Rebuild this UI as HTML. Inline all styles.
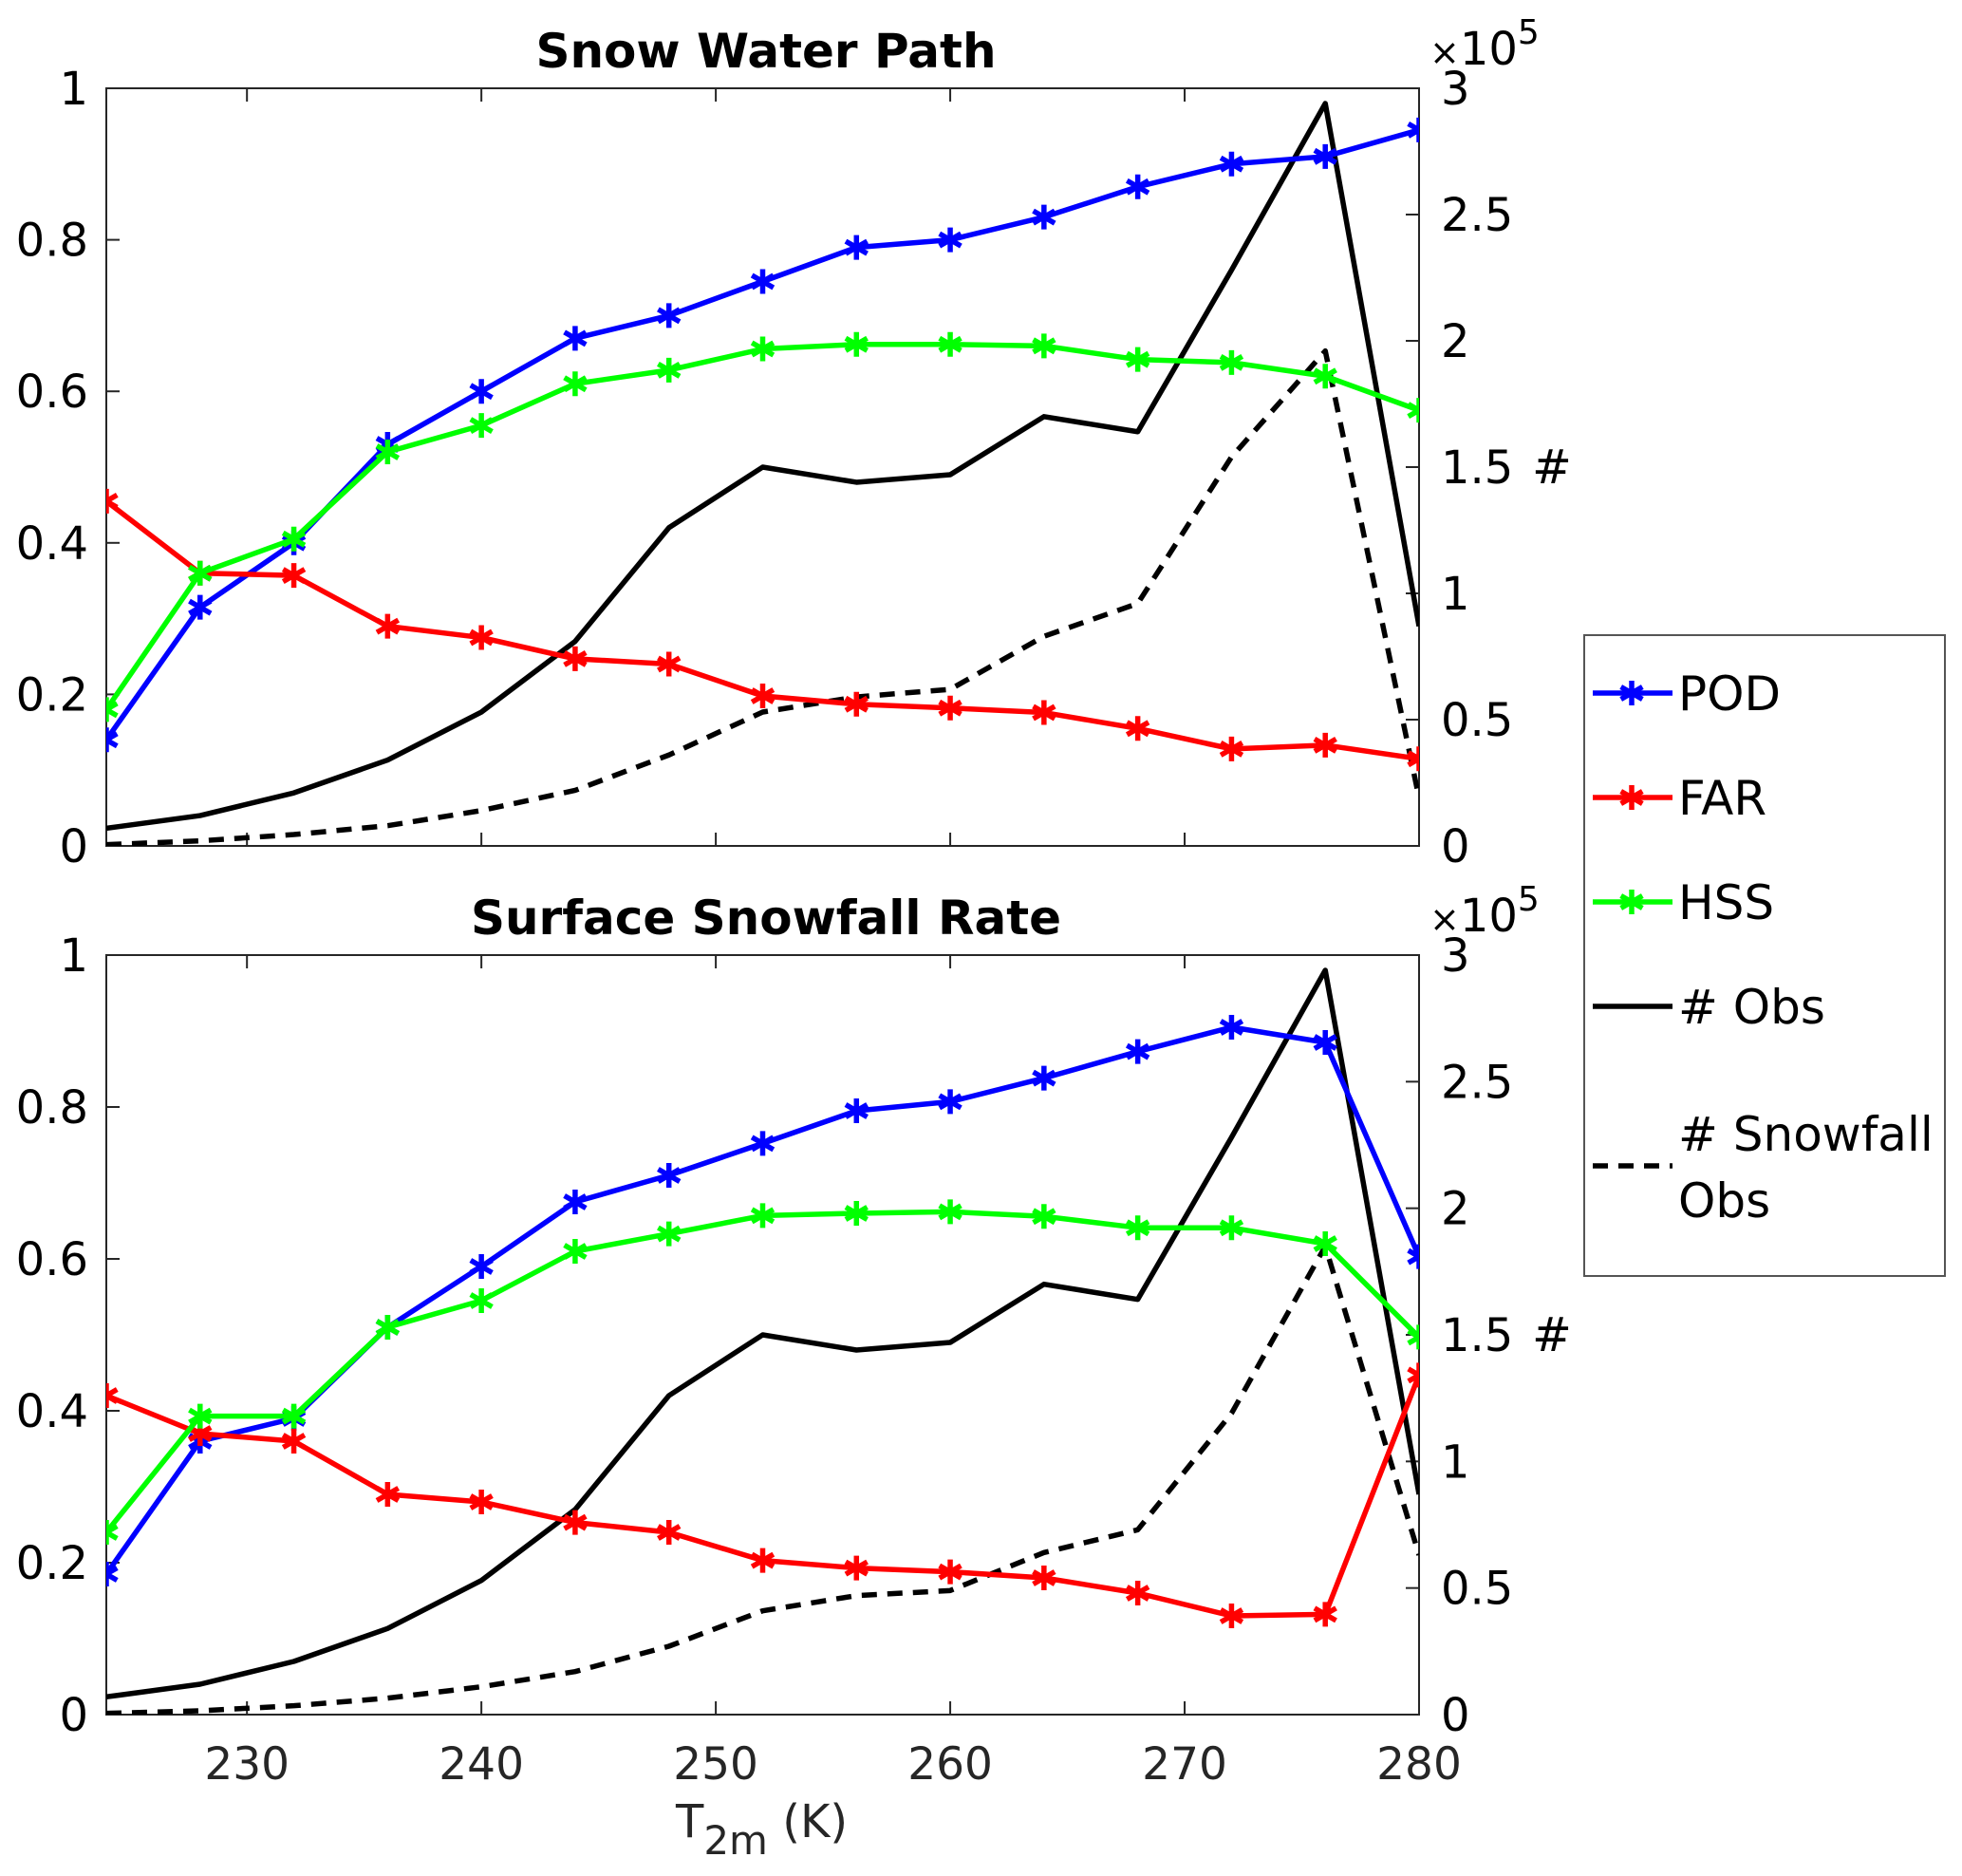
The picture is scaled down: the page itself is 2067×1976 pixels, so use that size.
<!DOCTYPE html>
<html><head><meta charset="utf-8"><style>
html,body{margin:0;padding:0;background:#fff;}
svg{display:block;font-family:"DejaVu Sans","Liberation Sans",sans-serif;}
</style></head><body>
<svg id="fig" width="2067" height="1976" viewBox="0 0 2067 1976" xmlns="http://www.w3.org/2000/svg"></svg>
<script>
const temps = [224,228,232,236,240,244,248,252,256,260,264,268,272,276,280];
const swpPOD = [0.14,0.315,0.40,0.53,0.60,0.67,0.70,0.745,0.79,0.80,0.83,0.87,0.90,0.91,0.945];
const swpFAR = [0.455,0.36,0.357,0.29,0.275,0.247,0.24,0.198,0.187,0.182,0.176,0.155,0.128,0.133,0.115];
const swpHSS = [0.18,0.36,0.405,0.52,0.555,0.61,0.628,0.656,0.662,0.662,0.66,0.642,0.638,0.62,0.575];
const swpObs = [0.07,0.12,0.21,0.34,0.53,0.81,1.26,1.50,1.44,1.47,1.70,1.64,2.28,2.94,0.87];
const swpSnow = [0.005,0.02,0.045,0.08,0.14,0.22,0.36,0.53,0.59,0.62,0.83,0.96,1.54,1.96,0.19];
const ssrPOD = [0.185,0.36,0.39,0.51,0.59,0.675,0.71,0.752,0.795,0.807,0.838,0.873,0.905,0.885,0.603];
const ssrFAR = [0.42,0.37,0.36,0.29,0.28,0.253,0.24,0.203,0.193,0.188,0.18,0.16,0.13,0.132,0.447];
const ssrHSS = [0.24,0.393,0.393,0.51,0.545,0.61,0.633,0.657,0.66,0.662,0.656,0.641,0.641,0.62,0.497];
const ssrObs = [0.07,0.12,0.21,0.34,0.53,0.81,1.26,1.50,1.44,1.47,1.70,1.64,2.28,2.94,0.87];
const ssrSnow = [0.005,0.015,0.035,0.065,0.11,0.17,0.27,0.41,0.47,0.49,0.64,0.73,1.19,1.85,0.63];
const xTicks = [230,240,250,260,270,280];
const yLeftTicks = [0,0.2,0.4,0.6,0.8,1];
const yLeftLabels = ["0","0.2","0.4","0.6","0.8","1"];
const yRightTicks = [0,0.5,1,1.5,2,2.5,3];
const yRightLabels = ["0","0.5","1","1.5","2","2.5","3"];

const NS="http://www.w3.org/2000/svg";
const svg=document.getElementById('fig');
function mk(tag,attrs,parent){const e=document.createElementNS(NS,tag);for(const k in attrs)e.setAttribute(k,attrs[k]);(parent||svg).appendChild(e);return e;}
const L=112,R=1495;
function xs(t){return L+(t-224)/(280-224)*(R-L);}
function star(g,x,y,c){
  const r=13;
  const p=mk('path',{d:`M${x},${y-r}L${x},${y+r}M${x-r*0.87},${y-r*0.5}L${x+r*0.87},${y+r*0.5}M${x-r*0.87},${y+r*0.5}L${x+r*0.87},${y-r*0.5}`,stroke:c,'stroke-width':5.5,fill:'none'},g);
  
  
}
function panel(id,top,bot,title,pod,far,hss,obs,snow,showX){
  const g=mk('g',{});
  
  
  const yl=v=>bot-v*(bot-top);
  const yr=v=>bot-v/3*(bot-top);
  const cp=mk('clipPath',{id:'clip'+id},g);
  mk('rect',{x:L,y:top,width:R-L,height:bot-top},cp);
  const t=mk('text',{x:807,y:top-22,'text-anchor':'middle','font-size':50,'font-weight':'bold',fill:'#000'},g);
  t.textContent=title;
  
  
  const ax=mk('rect',{x:L,y:top,width:R-L,height:bot-top,fill:'none',stroke:'#262626','stroke-width':2},g);
  
  
  xTicks.forEach(v=>{const x=xs(v);
    mk('line',{x1:x,y1:bot,x2:x,y2:bot-14,stroke:'#262626','stroke-width':2},g);
    mk('line',{x1:x,y1:top,x2:x,y2:top+14,stroke:'#262626','stroke-width':2},g);
    if(showX){const tl=mk('text',{x:x,y:bot+68,'text-anchor':'middle','font-size':47,fill:'#262626'},g);tl.textContent=String(v);
      
      }
  });
  yLeftTicks.forEach((v,i)=>{const y=yl(v);
    mk('line',{x1:L,y1:y,x2:L+14,y2:y,stroke:'#262626','stroke-width':2},g);
    const tl=mk('text',{x:93,y:y+17,'text-anchor':'end','font-size':48,fill:'#000'},g);tl.textContent=yLeftLabels[i];
    
    
  });
  yRightTicks.forEach((v,i)=>{const y=yr(v);
    mk('line',{x1:R,y1:y,x2:R-14,y2:y,stroke:'#262626','stroke-width':2},g);
    const tl=mk('text',{x:1518,y:y+17,'font-size':48,fill:'#000'},g);tl.textContent=yRightLabels[i];
    
    
  });
  const ex=mk('text',{x:1506,y:top-25,'font-size':48,fill:'#000'},g);
  ex.innerHTML='<tspan font-size="38">×</tspan>10<tspan dy="-22" font-size="36">5</tspan>';
  
  
  const hl=mk('text',{x:1614,y:yr(1.5)+17,'font-size':50,fill:'#000'},g);hl.textContent='#';
  
  
  const cg=mk('g',{'clip-path':`url(#clip${id})`},g);
  function line(vals,scale,c,dash,name){
    const pts=temps.map((t,i)=>xs(t)+','+scale(vals[i])).join(' ');
    const pl=mk('polyline',{points:pts,fill:'none',stroke:c,'stroke-width':5.5,'stroke-linejoin':'round'},cg);
    if(dash)pl.setAttribute('stroke-dasharray','16,11');
    
    
  }
  line(obs,yr,'#000',false,'obs-line');
  line(snow,yr,'#000',true,'snowfall-obs-line');
  [[pod,'#0000ff','pod-line'],[far,'#ff0000','far-line'],[hss,'#00ff00','hss-line']].forEach(([v,c,n])=>{
    line(v,yl,c,false,n);
    temps.forEach((t,i)=>star(cg,xs(t),yl(v[i]),c));
  });
}
panel('swp',93,891,'Snow Water Path',swpPOD,swpFAR,swpHSS,swpObs,swpSnow,false);
panel('ssr',1006,1806,'Surface Snowfall Rate',ssrPOD,ssrFAR,ssrHSS,ssrObs,ssrSnow,true);

const xl=mk('text',{x:712,y:1935,'font-size':48,fill:'#262626'});
xl.innerHTML='T<tspan dy="18" font-size="42">2m</tspan><tspan dy="-18"> (K)</tspan>';



const lg=mk('g',{});


mk('rect',{x:1669,y:669,width:380,height:675,fill:'#fff',stroke:'#555','stroke-width':2},lg);
const entries=[['POD','#0000ff',730,true],['FAR','#ff0000',840,true],['HSS','#00ff00',950,true],['# Obs','#000',1060,false]];
entries.forEach(([lab,c,y,mark])=>{
  const e=mk('g',{},lg);
  
  
  mk('line',{x1:1678,y1:y,x2:1762,y2:y,stroke:c,'stroke-width':5.5},e);
  if(mark)star(e,1719,y,c);
  const t=mk('text',{x:1768,y:y+18,'font-size':50,fill:'#000'},e);t.textContent=lab;
});
const e5=mk('g',{},lg);


mk('line',{x1:1678,y1:1228,x2:1762,y2:1228,stroke:'#000','stroke-width':5.5,'stroke-dasharray':'16,11'},e5);
const t5=mk('text',{x:1768,y:1212,'font-size':50,fill:'#000'},e5);t5.textContent='# Snowfall';
const t6=mk('text',{x:1768,y:1282,'font-size':50,fill:'#000'},e5);t6.textContent='Obs';
</script>
</body></html>
